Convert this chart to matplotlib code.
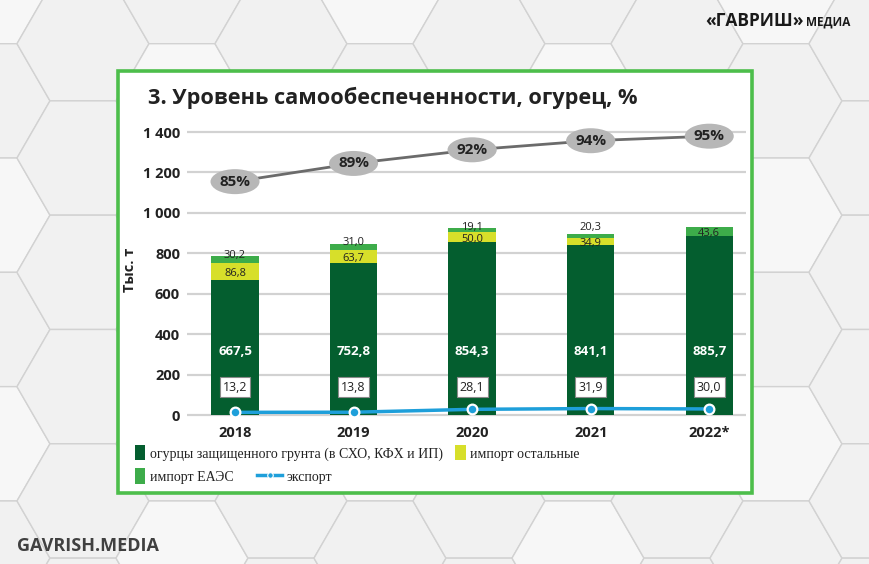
import numpy as np
import matplotlib
matplotlib.use("Agg")
import matplotlib.pyplot as plt
from matplotlib.patches import Rectangle, RegularPolygon

years = ["2018", "2019", "2020", "2021", "2022*"]
production = [667.5, 752.8, 854.3, 841.1, 885.7]
import_other = [86.8, 63.7, 50.0, 34.9, 0.0]
import_eaeu = [30.2, 31.0, 19.1, 20.3, 43.6]
export = [13.2, 13.8, 28.1, 31.9, 30.0]
self_sufficiency = [85, 89, 92, 94, 95]
y_ticks = [0, 200, 400, 600, 800, 1000, 1200, 1400]

C_PROD = "#045E2F"
C_OTHER = "#D7DF2A"
C_EAEU = "#3DAC4A"
C_EXPORT = "#1E9FDA"
C_TEXT = "#222222"

W, H = 870, 564
fig = plt.figure(figsize=(W / 100, H / 100), dpi=100)
fig.patch.set_facecolor("#EFEFEF")

# background with honeycomb and the white framed panel
bg = fig.add_axes([0, 0, 1, 1], zorder=-5)
bg.set_xlim(0, W)
bg.set_ylim(H, 0)
bg.axis("off")
r = 66
for i in range(-1, 11):
    for j in range(-1, 7):
        cx = 875 - 1.5 * r * (9 - i)
        cy = -13.45 + np.sqrt(3) * r * (j + 0.5 * (i % 2))
        bg.add_patch(RegularPolygon((cx, cy), 6, radius=r, orientation=np.pi / 6,
                                    fc="#F7F7F7" if (i + 2 * j) % 4 == 0 else "#F1F1F1",
                                    ec="#D2D2D2", lw=1.0))
bg.add_patch(Rectangle((118, 71), 634, 422, fc="white", ec="#4DBE4B", lw=2.6, zorder=3))

fig.text(705 / W, 1 - 21 / H, "«ГАВРИШ»", fontsize=12.5, fontweight="bold",
         color="#1A1A1A", family="Open Sans", va="center", ha="left")
fig.text(806 / W, 1 - 22 / H, "МЕДИА", fontsize=8.5, fontweight="bold",
         color="#1A1A1A", family="Open Sans", va="center", ha="left")
fig.text(17 / W, 1 - 546 / H, "GAVRISH.MEDIA", fontsize=13, fontweight="bold",
         color="#404040", family="Open Sans", va="center", ha="left")

fig.text(148 / W, 1 - 98 / H, "3. Уровень самообеспеченности, огурец, %",
         fontsize=15.7, fontweight="bold", color=C_TEXT, family="Open Sans",
         va="center", ha="left")

# main axes
ax = fig.add_axes([187 / W, 0.257, (746 - 187) / W, 0.525])
ax.set_facecolor("none")
x = np.arange(len(years))
bw = 0.4
bot2 = np.array(production) + np.array(import_other)
b1 = ax.bar(x, production, bw, color=C_PROD, zorder=2)
b2 = ax.bar(x, import_other, bw, bottom=production, color=C_OTHER, zorder=2)
b3 = ax.bar(x, import_eaeu, bw, bottom=bot2, color=C_EAEU, zorder=2)
ln_exp, = ax.plot(x, export, color=C_EXPORT, lw=2.5, marker="o", ms=7,
                  mfc=C_EXPORT, mec="white", mew=1.6, zorder=4)

ax.set_xlim(-0.405, 4.31)
ax.set_ylim(-20, 1445)
ax.set_yticks(y_ticks)
ax.set_yticklabels([f"{v:,}".replace(",", " ") for v in y_ticks])
ax.set_xticks(x)
ax.set_xticklabels(years)
ax.tick_params(length=0, labelsize=10.5, colors=C_TEXT, pad=5)
for lab in ax.get_xticklabels() + ax.get_yticklabels():
    lab.set_fontweight("bold")
    lab.set_family("Open Sans")
ax.grid(axis="y", color="#D2D2D2", lw=1.6, zorder=0)
for s in ax.spines.values():
    s.set_visible(False)

fig.text(130 / W, 1 - 270 / H, "Тыс. т", rotation=90, fontsize=10.5,
         fontweight="bold", color=C_TEXT, family="Open Sans", va="center", ha="center")

fmt = lambda v: f"{v:.1f}".replace(".", ",")
small = dict(color=C_TEXT, fontsize=8, family="Open Sans", zorder=5, ha="center")
for i in x:
    ax.text(i, 312, fmt(production[i]), ha="center", va="center",
            color="white", fontsize=9.5, fontweight="bold", family="Open Sans", zorder=5)
    ax.text(i, 138, fmt(export[i]), ha="center", va="center",
            color=C_TEXT, fontsize=9, family="Open Sans", zorder=5,
            bbox=dict(boxstyle="square,pad=0.25", fc="white", ec="#8A8A8A", lw=0.8))
    if import_other[i] > 0:
        ax.text(i, production[i] + import_other[i] / 2 - 10, fmt(import_other[i]),
                va="center", **small)
    top = bot2[i] + import_eaeu[i]
    if import_eaeu[i] > 40:
        ax.text(i, bot2[i] + import_eaeu[i] / 2 - 8, fmt(import_eaeu[i]), va="center", **small)
    elif import_other[i] < 40:
        ax.text(i, top + 4, fmt(import_eaeu[i]), va="bottom", **small)
    else:
        ax.text(i, top + 5, fmt(import_eaeu[i]), va="center", **small)

# self-sufficiency line on a hidden secondary scale
ax2 = ax.twinx()
ax2.set_ylim(91 + (-20 - 1289.6) / 22.5, 91 + (1445 - 1289.6) / 22.5)
ax2.axis("off")
ax2.plot(x, self_sufficiency, color="#6B6B6B", lw=2, zorder=2)
for i in x:
    ax2.text(i, self_sufficiency[i], f"{self_sufficiency[i]}%", ha="center", va="center",
             fontsize=11, fontweight="bold", color=C_TEXT, family="Open Sans", zorder=3,
             bbox=dict(boxstyle="ellipse,pad=0.12", fc="#B7B7B7", ec="none"))

leg_kw = dict(frameon=False, handleheight=1.3, handletextpad=0.3,
              borderaxespad=0, borderpad=0, labelcolor=C_TEXT,
              prop={"family": "Liberation Serif", "size": 10})
leg1 = fig.legend([b1, b2], ["огурцы защищенного грунта (в СХО, КФХ и ИП)", "импорт остальные"],
                  ncol=2, columnspacing=0.9, handlelength=0.75, loc="center left",
                  bbox_to_anchor=(135 / W, 1 - 453 / H), **leg_kw)
leg2 = fig.legend([b3], ["импорт ЕАЭС"], handlelength=0.75, loc="center left",
                  bbox_to_anchor=(135 / W, 1 - 476 / H), **leg_kw)
leg3 = fig.legend([ln_exp], ["экспорт"], handlelength=1.8, loc="center left",
                  bbox_to_anchor=(257 / W, 1 - 476 / H), **leg_kw)
leg3.legend_handles[0].set_markersize(4)
leg3.legend_handles[0].set_markeredgewidth(0.8)

fig.savefig("out.png", dpi=100, facecolor=fig.get_facecolor())
